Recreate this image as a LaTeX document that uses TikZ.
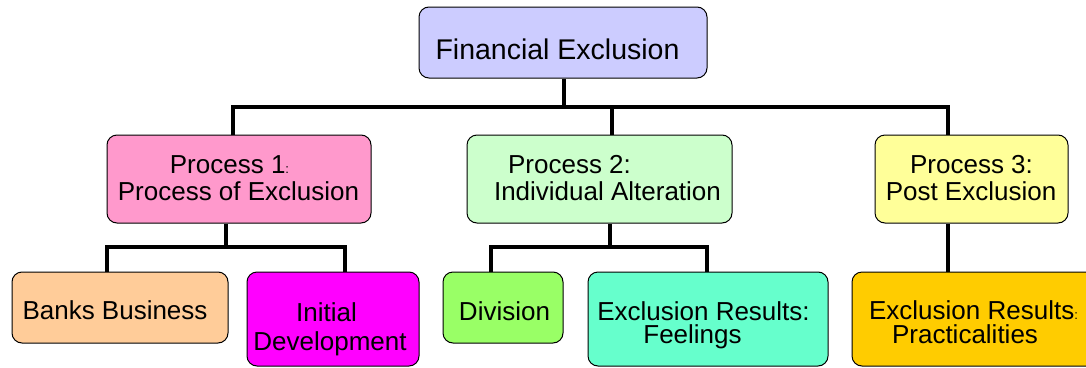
\documentclass[tikz,border=0pt]{standalone}
\usepackage{fontspec}
\setmainfont{Liberation Sans}
\newcommand\tinycolon{{\fontsize{13}{13}\selectfont :}}
\definecolor{cTop}{HTML}{CCCCFF}
\definecolor{cPink}{HTML}{FF99CC}
\definecolor{cMint}{HTML}{CCFFCC}
\definecolor{cLemon}{HTML}{FFFF99}
\definecolor{cPeach}{HTML}{FFCC99}
\definecolor{cMagenta}{HTML}{FF00FF}
\definecolor{cLime}{HTML}{99FF66}
\definecolor{cAqua}{HTML}{66FFCC}
\definecolor{cGold}{HTML}{FFCC00}
\begin{document}
\begin{tikzpicture}[x=1pt,y=-1pt,
  box/.style={draw=black, line width=1pt, rounded corners=10pt, inner sep=0pt},
  conn/.style={line width=4pt},
  txt/.style={inner sep=0pt, anchor=base, font=\fontsize{26}{30}\selectfont},
  bigtxt/.style={txt, font=\fontsize{28.5}{32}\selectfont},
]
\useasboundingbox (0,0) rectangle (1086,367);
\clip (0,0) rectangle (1086,367);

% boxes
\node[box, fill=cTop, minimum width=288pt, minimum height=71pt] (top) at (563,42.5) {};
\node[box, fill=cPink, minimum width=264pt, minimum height=88pt] (p1) at (239,179) {};
\node[box, fill=cMint, minimum width=265pt, minimum height=88pt] (p2) at (599.5,179) {};
\node[box, fill=cLemon, minimum width=193pt, minimum height=88pt] (p3) at (971.5,179) {};
\node[box, fill=cPeach, minimum width=216pt, minimum height=71pt] (banks) at (120,307.5) {};
\node[box, fill=cMagenta, minimum width=172pt, minimum height=94pt] (init) at (333,319) {};
\node[box, fill=cLime, minimum width=120pt, minimum height=71pt] (div) at (503,307.5) {};
\node[box, fill=cAqua, minimum width=240pt, minimum height=94pt] (feel) at (708,319) {};
\node[box, fill=cGold, minimum width=248pt, minimum height=94pt] (prac) at (976,319) {};

% labels
\node[bigtxt] (tTop) at (557.5,59) {Financial Exclusion};
\node[txt] (t1a) at (229.5,173) {Process 1\tinycolon};
\node[txt] (t1b) at (238.5,200) {Process of Exclusion};
\node[txt] (t2a) at (569.5,173) {Process 2:};
\node[txt] (t2b) at (607.5,200) {Individual Alteration};
\node[txt] (t3a) at (971.5,173) {Process 3:};
\node[txt] (t3b) at (971,200) {Post Exclusion};
\node[txt] (tBanks) at (115,319) {Banks Business};
\node[txt] (tInitA) at (326.5,321) {Initial};
\node[txt] (tInitB) at (330,350) {Development};
\node[txt] (tDiv) at (504.5,320) {Division};
\node[txt] (tFeelA) at (703.5,320) {Exclusion Results:};
\node[txt] (tFeelB) at (692.5,343.5) {Feelings};
\node[txt] (tPracA) at (973.5,319) {Exclusion Results\tinycolon};
\node[txt] (tPracB) at (965,343.5) {Practicalities};

% junction points of the tree
\coordinate (j0) at (564,107);
\coordinate (b1) at (233,107);
\coordinate (b2) at (612,107);
\coordinate (b3) at (948,107);
\coordinate (c1) at (226,247);
\coordinate (d1l) at (107,247);
\coordinate (d1r) at (345,247);
\coordinate (c2) at (610,247);
\coordinate (d2l) at (491,247);
\coordinate (d2r) at (707,247);

% connectors
\draw[conn] (top.south -| j0) -- (j0);
\draw[conn] (p1.north -| b1) |- (b3) -- (p3.north -| b3);
\draw[conn] (b2) -- (p2.north -| b2);
\draw[conn] (p1.south -| c1) -- (c1);
\draw[conn] (banks.north -| d1l) |- (d1r) -- (init.north -| d1r);
\draw[conn] (p2.south -| c2) -- (c2);
\draw[conn] (div.north -| d2l) |- (d2r) -- (feel.north -| d2r);
\draw[conn] (p3.south -| b3) -- (prac.north -| b3);
\end{tikzpicture}
\end{document}
